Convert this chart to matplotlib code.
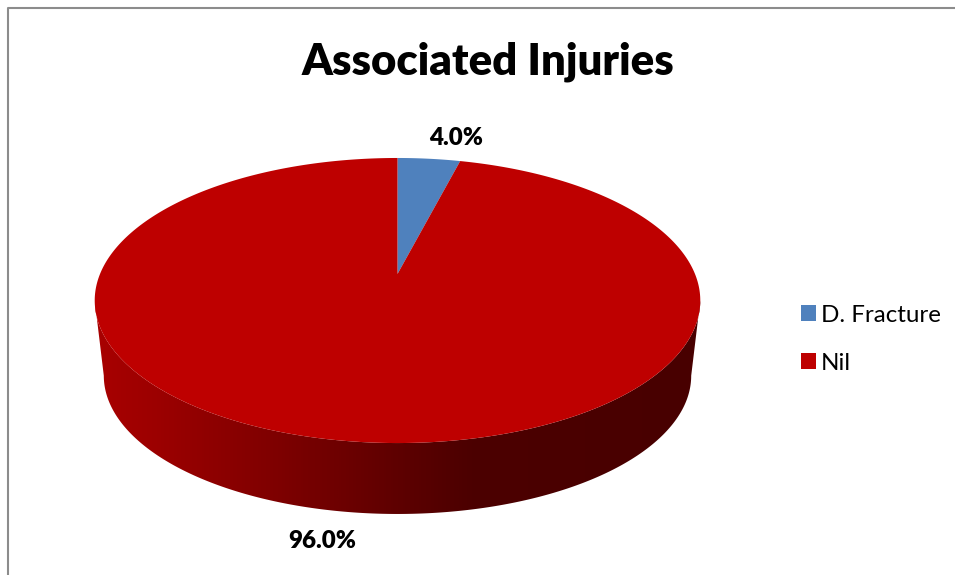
import numpy as np
import matplotlib
matplotlib.use("Agg")
import matplotlib.pyplot as plt
from matplotlib.colors import LinearSegmentedColormap
from matplotlib.patches import Patch, Polygon

# Chart data
categories = ['D. Fracture', 'Nil']
values = [4.0, 96.0]
value_labels = ['4.0%', '96.0%']
slice_colors = ['#4F81BD', '#BE0000']

# Pie geometry in pixels (perspective disc seen from above)
CX = 397.5
TOP_Y = 274
BOTTOM_Y = 350
BOTTOM_SCALE = 0.97
PERSP = 0.186
WIDTH = 297.5
HEIGHT = 137.6


def project(theta, y0=TOP_Y, scale=1.0):
    """Map clockwise-from-top pie angles onto the tilted disc."""
    u = np.sin(theta)
    v = np.cos(theta)
    w = 1 + PERSP * v
    return CX + scale * WIDTH * u / w, y0 - scale * HEIGHT * v / w


plt.rcParams['font.family'] = ['Lato', 'DejaVu Sans']

fig = plt.figure(figsize=(9.55, 5.75), dpi=100)
ax = fig.add_axes([0, 0, 1, 1])
ax.set_xlim(0, 955)
ax.set_ylim(575, 0)
ax.axis('off')

# Chart frame, only left and top are visible in the crop
ax.plot([8, 8, 955], [575, 8, 8], color='#8C8C8C', lw=1.5)

# Side wall of the pie, front half only
limit = np.arccos(-PERSP)
front = np.linspace(limit, 2 * np.pi - limit, 300)
tx, ty = project(front)
bx, by = project(front[::-1], BOTTOM_Y, BOTTOM_SCALE)
wall = Polygon(np.column_stack([np.r_[tx, bx], np.r_[ty, by]]), closed=True,
               transform=ax.transData, fc='none', ec='none')
ax.add_patch(wall)

shade = LinearSegmentedColormap.from_list('wall', [
    (0.00, '#A80000'), (0.10, '#9C0000'), (0.30, '#7E0000'),
    (0.50, '#5E0000'), (0.62, '#4C0000'), (1.00, '#480000')])
gradient = ax.imshow(np.linspace(0, 1, 600).reshape(1, -1), cmap=shade,
                     extent=[95, 700, 515, 300], aspect='auto', zorder=2)
gradient.set_clip_path(wall)
ax.set_xlim(0, 955)
ax.set_ylim(575, 0)

# Top face, slices run clockwise from 12 o'clock
start = 0.0
for value, color in zip(values, slice_colors):
    end = start + 2 * np.pi * value / sum(values)
    theta = np.linspace(start, end, 400)
    x, y = project(theta)
    ax.fill(np.r_[CX, x], np.r_[TOP_Y, y], color=color, lw=0, zorder=3)
    start = end

# Value labels
ax.text(456, 138, value_labels[0], fontsize=17.4, fontweight='heavy',
        ha='center', va='center', color='black')
ax.text(322, 541, value_labels[1], fontsize=17.4, fontweight='heavy',
        ha='center', va='center', color='black')

# Title
fig.suptitle('Associated Injuries', x=488 / 955, y=1 - 62 / 575, fontsize=31.4,
             fontweight='heavy', ha='center', va='center')

# Legend
handles = [Patch(facecolor=c, edgecolor='none') for c in slice_colors]
ax.legend(handles, categories, loc='upper left', bbox_to_anchor=(791 / 955, 1 - 295 / 575),
          frameon=False, fontsize=17.4, handlelength=0.64, handleheight=0.64,
          handletextpad=0.2, labelspacing=1.12, borderpad=0.4, borderaxespad=0)

fig.savefig('out.png', dpi=100)
